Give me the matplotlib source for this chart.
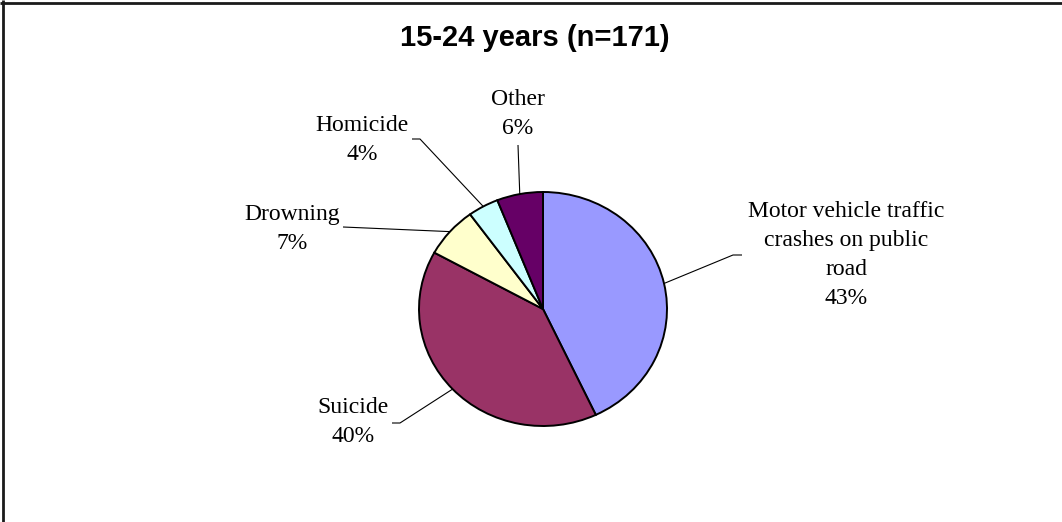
import numpy as np
import matplotlib
matplotlib.use("Agg")
import matplotlib.pyplot as plt
from matplotlib.lines import Line2D

# Causes of death, 15-24 years
categories = ["Motor vehicle traffic\ncrashes on public\nroad", "Suicide", "Drowning", "Homicide", "Other"]
shares = [43, 40, 7, 4, 6]
colors = ["#9999FF", "#993366", "#FFFFCC", "#CCFFFF", "#660066"]
title = "15-24 years (n=171)"

W, H = 1062, 522
fig = plt.figure(figsize=(W / 100, H / 100), dpi=100)
fig.patch.set_facecolor("white")

# pie area in pixels (left, right, top, bottom)
px_l, px_r, px_t, px_b = 419, 667, 192, 426
ax = fig.add_axes([px_l / W, 1 - px_b / H, (px_r - px_l) / W, (px_b - px_t) / H])
wedges, _ = ax.pie(shares, colors=colors, startangle=90, counterclock=False,
                   wedgeprops=dict(edgecolor="black", linewidth=1.4))
ax.set_aspect("auto")
ax.set_xlim(-1, 1)
ax.set_ylim(-1, 1)

# overlay in pixel coordinates for labels, leaders and frame
ov = fig.add_axes([0, 0, 1, 1])
ov.set_xlim(0, W)
ov.set_ylim(H, 0)
ov.axis("off")
ov.patch.set_visible(False)

def edge_point(w):
    mid = np.deg2rad((w.theta1 + w.theta2) / 2)
    disp = ax.transData.transform((np.cos(mid), np.sin(mid)))
    return ov.transData.inverted().transform(disp)

# label centres and leader paths (pixel coordinates, label side first)
label_pos = [(846, 255), (353, 422), (292, 229), (362, 140), (518, 114)]
leader_paths = [
    [(742, 255), (733, 255)],
    [(392, 423), (400, 423)],
    [(343, 227)],
    [(412, 139), (420, 139)],
    [(518, 145)],
]

serif = ["Liberation Serif", "DejaVu Serif"]
for w, name, val, (lx, ly), path in zip(wedges, categories, shares, label_pos, leader_paths):
    ov.text(lx, ly, f"{name}\n{val}%", ha="center", va="center",
            fontsize=17, family=serif, linespacing=1.5, color="black")
    ex, ey = edge_point(w)
    xs = [p[0] for p in path] + [ex]
    ys = [p[1] for p in path] + [ey]
    ov.plot(xs, ys, color="black", linewidth=0.8, solid_capstyle="butt")

ov.text(535, 38, title, ha="center", va="center", fontsize=21,
        fontweight="bold", family=["Liberation Sans", "DejaVu Sans"], color="black")

# chart frame (top and left edges)
ov.add_line(Line2D([0, W], [3, 3], color="#1a1a1a", linewidth=2.0, solid_capstyle="butt"))
ov.add_line(Line2D([3, 3], [0, H], color="#1a1a1a", linewidth=2.0, solid_capstyle="butt"))

fig.savefig("out.png", dpi=100, facecolor="white")
